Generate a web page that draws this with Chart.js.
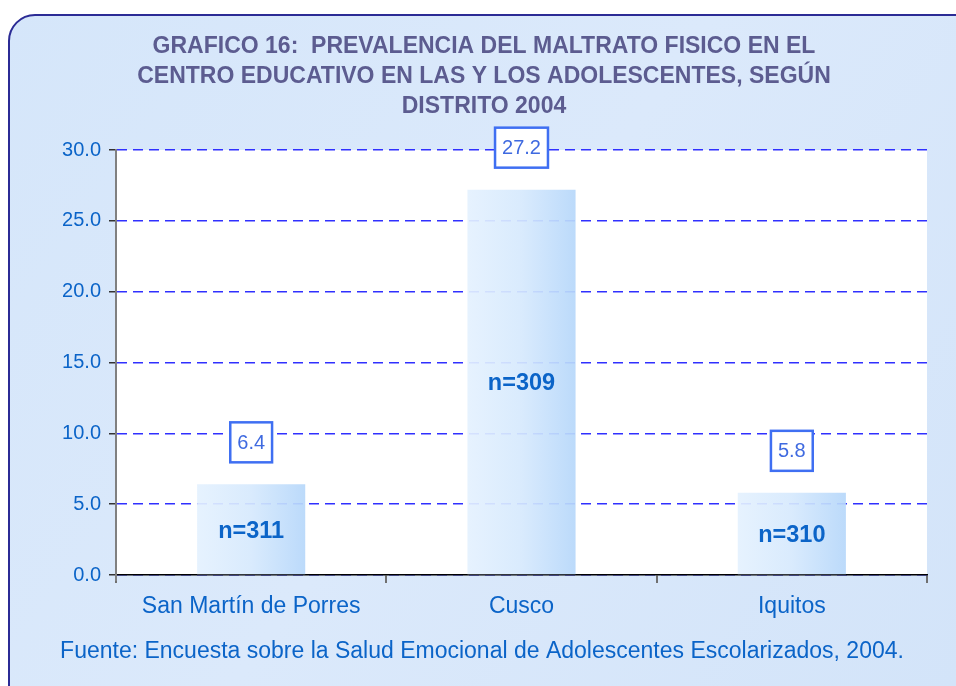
<!DOCTYPE html>
<html>
<head>
<meta charset="utf-8">
<script src="https://cdn.jsdelivr.net/npm/chart.js@4/dist/chart.umd.min.js"></script>
<style>
    html, body { margin: 0; padding: 0; background: #ffffff; }
    #wrap { width: 956px; height: 686px; position: relative; }
</style>
</head>
<body>
<div id="wrap"><canvas id="prevalenceChart" width="956" height="686"></canvas></div>
<script>
// Chart data
const categories = ['San Martín de Porres', 'Cusco', 'Iquitos'];
const prevalence = [6.4, 27.2, 5.8];
const sampleSizes = ['n=311', 'n=309', 'n=310'];
const yMax = 30;
const yStep = 5;
const titleLines = [
    'GRAFICO 16:  PREVALENCIA DEL MALTRATO FISICO EN EL',
    'CENTRO EDUCATIVO EN LAS Y LOS ADOLESCENTES, SEGÚN',
    'DISTRITO 2004'
];
const sourceNote = 'Fuente: Encuesta sobre la Salud Emocional de Adolescentes Escolarizados, 2004.';

const FONT = "'Liberation Sans', Arial, sans-serif";
const BLUE_TEXT = '#0b64c8';

// frame, white plot area, title, labels
const decorations = {
    id: 'decorations',
    beforeDraw(chart) {
        const { ctx, chartArea: a } = chart;
        ctx.save();
        ctx.fillStyle = '#ffffff';
        ctx.fillRect(0, 0, chart.width, chart.height);
        ctx.beginPath();
        ctx.roundRect(9, 15, chart.width + 20, chart.height + 20, 26);
        const bg = ctx.createLinearGradient(0, 0, chart.width, chart.height);
        bg.addColorStop(0, '#d5e6fa');
        bg.addColorStop(0.5, '#dbe9fb');
        bg.addColorStop(1, '#d3e4f9');
        ctx.fillStyle = bg;
        ctx.fill();
        ctx.lineWidth = 2;
        ctx.strokeStyle = '#2b2b95';
        ctx.stroke();
        ctx.fillStyle = '#ffffff';
        ctx.fillRect(a.left, a.top, a.right - a.left, a.bottom - a.top);
        ctx.restore();
    },
    afterDraw(chart) {
        const { ctx, chartArea: a } = chart;
        const meta = chart.getDatasetMeta(0);
        ctx.save();

        // axis stub below the zero line
        ctx.strokeStyle = '#808080';
        ctx.lineWidth = 2;
        ctx.beginPath();
        ctx.moveTo(a.left, a.bottom);
        ctx.lineTo(a.left, a.bottom + 6);
        ctx.stroke();

        ctx.textAlign = 'center';
        ctx.textBaseline = 'middle';

        meta.data.forEach((bar, i) => {
            // value box above the bar
            ctx.font = '20px ' + FONT;
            const txt = prevalence[i].toFixed(1);
            const w = ctx.measureText(txt).width + 14;
            const h = 40;
            const cy = bar.y - 42;
            ctx.fillStyle = '#ffffff';
            ctx.fillRect(bar.x - w / 2, cy - h / 2, w, h);
            ctx.lineWidth = 2.5;
            ctx.strokeStyle = '#3f6ff2';
            ctx.strokeRect(bar.x - w / 2, cy - h / 2, w, h);
            ctx.fillStyle = '#3f6ae0';
            ctx.fillText(txt, bar.x, cy + 1);

            // sample size inside the bar
            ctx.font = 'bold 23.5px ' + FONT;
            ctx.fillStyle = BLUE_TEXT;
            ctx.fillText(sampleSizes[i], bar.x, (bar.y + bar.base) / 2 + 2);
        });

        // title
        ctx.font = 'bold 23px ' + FONT;
        ctx.fillStyle = '#5c5c90';
        titleLines.forEach((line, i) => ctx.fillText(line, 484, 47 + i * 30));

        // source note
        ctx.font = '23px ' + FONT;
        ctx.fillStyle = BLUE_TEXT;
        ctx.fillText(sourceNote, 482, 652);
        ctx.restore();
    }
};

function barFill(context) {
    const chart = context.chart;
    const x = chart.scales.x;
    if (!x || !chart.chartArea) return 'rgba(200,225,250,0.9)';
    const cx = x.getPixelForValue(context.dataIndex);
    const half = (x.width / categories.length) * 0.4 / 2;
    const g = chart.ctx.createLinearGradient(cx - half, 0, cx + half, 0);
    g.addColorStop(0, 'rgba(228,241,254,0.92)');
    g.addColorStop(0.5, 'rgba(214,233,253,0.92)');
    g.addColorStop(1, 'rgba(182,215,250,0.92)');
    return g;
}

new Chart(document.getElementById('prevalenceChart'), {
    type: 'bar',
    data: {
        labels: categories,
        datasets: [{
            data: prevalence,
            backgroundColor: barFill,
            borderWidth: 0,
            barPercentage: 0.4,
            categoryPercentage: 1
        }]
    },
    options: {
        responsive: false,
        animation: false,
        layout: { padding: { top: 150, right: 29, left: 0, bottom: 0 } },
        plugins: {
            legend: { display: false },
            tooltip: { enabled: false },
            title: { display: false }
        },
        scales: {
            x: {
                afterFit: scale => { scale.height = 111; },
                grid: {
                    drawOnChartArea: false,
                    offset: true,
                    tickLength: 8,
                    color: '#707070',
                    lineWidth: 2
                },
                border: { color: '#000000', width: 1.5 },
                ticks: {
                    color: BLUE_TEXT,
                    font: { family: FONT, size: 23 },
                    padding: 10
                }
            },
            y: {
                min: 0,
                max: yMax,
                afterFit: scale => { scale.width = 116; },
                grid: {
                    color: '#3030ff',
                    tickColor: '#333333',
                    tickLength: 7,
                    lineWidth: 1.5
                },
                border: { color: '#808080', width: 2, dash: [10, 6] },
                ticks: {
                    stepSize: yStep,
                    color: BLUE_TEXT,
                    font: { family: FONT, size: 20 },
                    padding: 8,
                    callback: v => v.toFixed(1)
                }
            }
        }
    },
    plugins: [decorations]
});
</script>
</body>
</html>
